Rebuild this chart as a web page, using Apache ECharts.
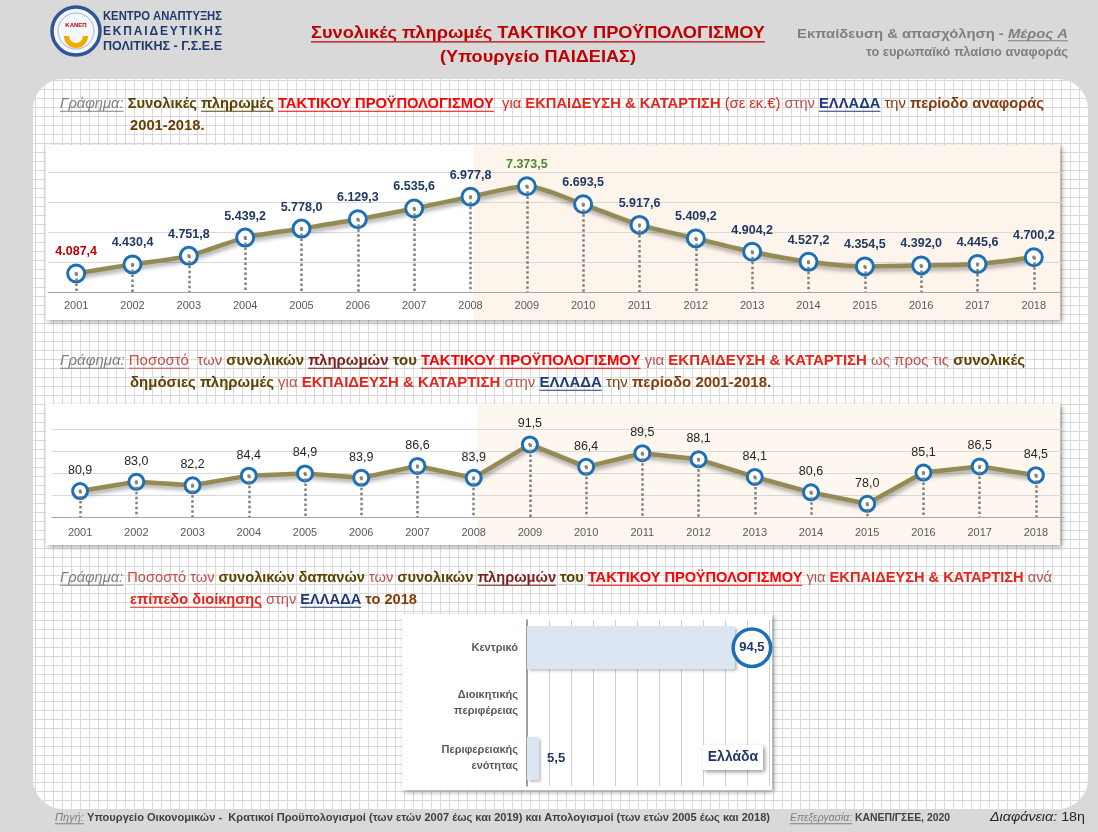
<!DOCTYPE html>
<html><head><meta charset="utf-8">
<script src="https://cdn.jsdelivr.net/npm/echarts@6/dist/echarts.min.js"></script>
<style>html,body{margin:0;padding:0;background:#d9d9d9}#c{width:1098px;height:832px}</style>
</head><body><div id="c"></div>
<script>
// ---------------- DATA ----------------
const years = ['2001','2002','2003','2004','2005','2006','2007','2008','2009','2010','2011','2012','2013','2014','2015','2016','2017','2018'];
const payments = [4087.4, 4430.4, 4751.8, 5439.2, 5778.0, 6129.3, 6535.6, 6977.8, 7373.5, 6693.5, 5917.6, 5409.2, 4904.2, 4527.2, 4354.5, 4392.0, 4445.6, 4700.2];
const shares = [80.9, 83.0, 82.2, 84.4, 84.9, 83.9, 86.6, 83.9, 91.5, 86.4, 89.5, 88.1, 84.1, 80.6, 78.0, 85.1, 86.5, 84.5];
const levels = ['Κεντρικό', 'Διοικητικής\nπεριφέρειας', 'Περιφερειακής\nενότητας'];
const levelShares = [94.5, null, 5.5];
const shadeFrom = '2008';
const payAxis = {min: 3390, max: 9040, interval: 1130};
const shareAxis = {min: 75, max: 100, interval: 5};
const levelAxis = {min: 0, max: 110, interval: 10};

// ---------------- HELPERS ----------------
const FAM = '"Liberation Sans", Arial, sans-serif';
const mctx = document.createElement('canvas').getContext('2d');
function tw(t, f) { mctx.font = f; return mctx.measureText(t).width; }
function fontOf(s, o) { return (s.i ? 'italic ' : '') + (s.b === false ? 'normal' : 'bold') + ' ' + o.size + 'px ' + (o.fam || FAM); }
function fmt(v) {
  const p = v.toFixed(1).split('.');
  return p[0].replace(/\B(?=(\d{3})+(?!\d))/g, '.') + ',' + p[1];
}
function mk(segs, o) {
  const kids = []; let cx = 0; const z = o.z || 10;
  segs.forEach((s, k) => {
    const f = fontOf(s, o);
    if (k > 0 && !s.ns) cx += tw(' ', f);
    const w = tw(s.t, f);
    kids.push({type: 'text', x: cx, y: 0, z: z, silent: true,
      style: {text: s.t, font: f, fill: s.c || o.c, align: 'left', verticalAlign: 'middle'}});
    if (s.u) kids.push({type: 'rect', z: z, silent: true,
      shape: {x: cx, y: o.size * 0.48, width: w, height: Math.max(1, o.size * 0.08)}, style: {fill: s.c || o.c}});
    cx += w;
  });
  const sc = o.scale || (o.width ? o.width / cx : 1);
  const W = cx * sc;
  let gx = o.x;
  if (o.align === 'center') gx -= W / 2; else if (o.align === 'right') gx -= W;
  return {el: {type: 'group', x: gx, y: o.y, scaleX: sc, children: kids}, scale: sc};
}
function spaced(text, x, y, width, size, color) {
  const f = 'bold ' + size + 'px ' + FAM;
  const chars = Array.from(text);
  const ws = chars.map(ch => tw(ch, f));
  const gap = (width - ws.reduce((a, b) => a + b, 0)) / (chars.length - 1);
  let cx = x;
  return chars.map((ch, i) => {
    const e = {type: 'text', x: cx, y: y, z: 10, silent: true,
      style: {text: ch, font: f, fill: color, align: 'left', verticalAlign: 'middle'}};
    cx += ws[i] + gap;
    return e;
  });
}

// grid paper pattern
const pc = document.createElement('canvas'); pc.width = 9; pc.height = 9;
const pg = pc.getContext('2d');
pg.fillStyle = '#ffffff'; pg.fillRect(0, 0, 9, 9);
pg.fillStyle = '#dadada'; pg.fillRect(8, 0, 1, 9); pg.fillRect(0, 8, 9, 1);

// colours
const GREY = '#7F7F7F', DB = '#5E4300', DR = '#7B1C1C', RED = '#FF0000', RED2 = '#E3261C', LR = '#C0504D', NAVY = '#1F3A78', BR = '#843C0C';

// ---------------- GRAPHIC ----------------
const G = [];
G.push({type: 'rect', z: 0.1, silent: true, shape: {x: 33, y: 79, width: 1055, height: 730, r: 30},
  style: {fill: {image: pc, repeat: 'repeat'}}});
const box1 = {x: 46, y: 145, width: 1014, height: 175};
const box2 = {x: 46, y: 404, width: 1014, height: 141};
const box3 = {x: 402, y: 614, width: 370, height: 176};
[box1, box2, box3].forEach(b => G.push({type: 'rect', z: 0.2, silent: true, shape: b,
  style: {fill: '#fff', shadowBlur: 5, shadowColor: 'rgba(0,0,0,0.35)', shadowOffsetX: 2, shadowOffsetY: 2}}));

// logo
G.push({type: 'circle', z: 10, silent: true, shape: {cx: 76, cy: 31, r: 24}, style: {fill: '#F4F7FC', stroke: '#2F5597', lineWidth: 3.5}});
G.push({type: 'circle', z: 10, silent: true, shape: {cx: 76, cy: 31, r: 18}, style: {fill: 'none', stroke: '#9DB3D9', lineWidth: 1}});
G.push({type: 'sector', z: 10, silent: true, shape: {cx: 76, cy: 36, r: 12, r0: 7, startAngle: 0, endAngle: Math.PI}, style: {fill: '#F2A900'}});
G.push({type: 'text', z: 10, silent: true, x: 76, y: 25, style: {text: 'ΚΑΝΕΠ', font: 'bold 6px ' + FAM, fill: '#C00000', align: 'center', verticalAlign: 'middle'}});
G.push(mk([{t: 'ΚΕΝΤΡΟ ΑΝΑΠΤΥΞΗΣ'}], {x: 103, y: 17, size: 12, width: 119, c: '#1F3A6E'}).el);
spaced('ΕΚΠΑΙΔΕΥΤΙΚΗΣ', 103, 32, 119, 12, '#1F3A6E').forEach(e => G.push(e));
G.push(mk([{t: 'ΠΟΛΙΤΙΚΗΣ - Γ.Σ.Ε.Ε'}], {x: 103, y: 47, size: 12, width: 119, c: '#1F3A6E'}).el);

// header titles
G.push(mk([{t: 'Συνολικές πληρωμές ΤΑΚΤΙΚΟΥ ΠΡΟΫΠΟΛΟΓΙΣΜΟΥ', u: true}], {x: 538, y: 33, size: 17, width: 454, align: 'center', c: '#C00000'}).el);
G.push(mk([{t: '(Υπουργείο ΠΑΙΔΕΙΑΣ)'}], {x: 538, y: 57, size: 17, width: 196, align: 'center', c: '#C00000'}).el);
G.push(mk([{t: 'Εκπαίδευση & απασχόληση -'}, {t: 'Μέρος Α', i: true, u: true}], {x: 1068, y: 34, size: 13, width: 271, align: 'right', c: GREY}).el);
G.push(mk([{t: 'το ευρωπαϊκό πλαίσιο αναφοράς'}], {x: 1068, y: 53, size: 12, width: 202, align: 'right', c: GREY}).el);

// caption 1
const c1 = mk([
  {t: 'Γράφημα:', i: true, b: false, u: true, c: GREY}, {t: 'Συνολικές', c: DB}, {t: 'πληρωμές', c: DB, u: true},
  {t: 'ΤΑΚΤΙΚΟΥ ΠΡΟΫΠΟΛΟΓΙΣΜΟΥ', c: RED, u: true}, {t: ' για', b: false, c: RED2}, {t: 'ΕΚΠΑΙΔΕΥΣΗ & ΚΑΤΑΡΤΙΣΗ', c: RED2},
  {t: '(σε εκ.€)', b: false, c: RED2}, {t: 'στην', b: false, c: LR}, {t: 'ΕΛΛΑΔΑ', c: NAVY, u: true},
  {t: 'την', b: false, c: BR}, {t: 'περίοδο αναφοράς', c: BR}
], {x: 60, y: 104, size: 14, width: 984});
G.push(c1.el);
G.push(mk([{t: '2001-2018.', c: '#6B3E00'}], {x: 130, y: 126, size: 14, scale: c1.scale}).el);

// caption 2
const c2 = mk([
  {t: 'Γράφημα:', i: true, b: false, u: true, c: GREY}, {t: 'Ποσοστό', b: false, u: true, c: LR}, {t: ' των', b: false, c: LR},
  {t: 'συνολικών', c: DB}, {t: 'πληρωμών', c: DR, u: true}, {t: 'του', c: DB},
  {t: 'ΤΑΚΤΙΚΟΥ ΠΡΟΫΠΟΛΟΓΙΣΜΟΥ', c: RED, u: true}, {t: 'για', b: false, c: LR}, {t: 'ΕΚΠΑΙΔΕΥΣΗ & ΚΑΤΑΡΤΙΣΗ', c: RED2},
  {t: 'ως προς τις', b: false, c: LR}, {t: 'συνολικές', c: DB}
], {x: 60, y: 361, size: 14, width: 965});
G.push(c2.el);
G.push(mk([
  {t: 'δημόσιες πληρωμές', c: DB}, {t: 'για', b: false, c: LR}, {t: 'ΕΚΠΑΙΔΕΥΣΗ & ΚΑΤΑΡΤΙΣΗ', c: RED2},
  {t: 'στην', b: false, c: LR}, {t: 'ΕΛΛΑΔΑ', c: NAVY, u: true}, {t: 'την', b: false, c: BR}, {t: 'περίοδο 2001-2018.', c: BR}
], {x: 130, y: 383, size: 14, scale: c2.scale}).el);

// caption 3
const c3 = mk([
  {t: 'Γράφημα:', i: true, b: false, u: true, c: GREY}, {t: 'Ποσοστό των', b: false, c: LR}, {t: 'συνολικών δαπανών', c: DB},
  {t: 'των', b: false, c: LR}, {t: 'συνολικών', c: DB}, {t: 'πληρωμών', c: DR, u: true}, {t: 'του', c: DB},
  {t: 'ΤΑΚΤΙΚΟΥ ΠΡΟΫΠΟΛΟΓΙΣΜΟΥ', c: RED, u: true}, {t: 'για', b: false, c: LR}, {t: 'ΕΚΠΑΙΔΕΥΣΗ & ΚΑΤΑΡΤΙΣΗ', c: RED2},
  {t: 'ανά', b: false, c: LR}
], {x: 60, y: 578, size: 14, width: 992});
G.push(c3.el);
G.push(mk([
  {t: 'επίπεδο διοίκησης', c: RED2, u: true}, {t: 'στην', b: false, c: LR}, {t: 'ΕΛΛΑΔΑ', c: NAVY, u: true}, {t: 'το 2018', c: BR}
], {x: 130, y: 600, size: 14, scale: c3.scale}).el);

// Ελλάδα box
G.push({type: 'rect', z: 10, silent: true, shape: {x: 703, y: 745, width: 60, height: 25},
  style: {fill: '#fff', shadowBlur: 4, shadowColor: 'rgba(0,0,0,0.4)', shadowOffsetX: 2, shadowOffsetY: 2}});
G.push({type: 'text', z: 11, silent: true, x: 733, y: 757.5, style: {text: 'Ελλάδα', font: 'bold 14px ' + FAM, fill: '#1F3864', align: 'center', verticalAlign: 'middle'}});

// footer
G.push(mk([{t: 'Πηγή:', i: true, b: false, u: true, c: GREY},
  {t: 'Υπουργείο Οικονομικών -  Κρατικοί Προϋπολογισμοί (των ετών 2007 έως και 2019) και Απολογισμοί (των ετών 2005 έως και 2018)', c: '#404040'}],
  {x: 55, y: 818, size: 11, width: 715}).el);
G.push(mk([{t: 'Επεξεργασία:', i: true, b: false, u: true, c: GREY}, {t: 'ΚΑΝΕΠ/ΓΣΕΕ, 2020', c: '#404040'}],
  {x: 790, y: 818, size: 11, width: 160}).el);
G.push(mk([{t: 'Διαφάνεια:', i: true, b: false, c: '#262626'}, {t: '18η', b: false, c: '#262626'}],
  {x: 990, y: 818, size: 12, width: 95}).el);

// ---------------- SERIES ----------------
function lineSet(vals, ax, yMin, o) {
  const maxI = vals.indexOf(Math.max(...vals));
  const data = vals.map((v, i) => {
    const it = {value: v};
    if (o.firstColor && i === 0) it.label = {color: o.firstColor};
    if (o.maxColor && i === maxI) it.label = {color: o.maxColor};
    return it;
  });
  return [
    {type: 'line', xAxisIndex: ax, yAxisIndex: ax, data: vals, symbol: 'none', silent: true, z: 2,
      lineStyle: {opacity: 0}, emphasis: {disabled: true},
      markLine: {silent: true, symbol: ['none', 'none'], label: {show: false}, emphasis: {disabled: true},
        lineStyle: {color: '#7F7F7F', width: 2.5, type: [2.5, 2.5]},
        data: vals.map((v, i) => [{coord: [i, v]}, {coord: [i, yMin]}])}},
    {type: 'line', xAxisIndex: ax, yAxisIndex: ax, data: data, smooth: o.smooth, z: 3,
      symbol: 'circle', symbolSize: o.sym, emphasis: {disabled: true},
      lineStyle: {color: '#948A54', width: 4.5, shadowColor: 'rgba(0,0,0,0.35)', shadowBlur: 4, shadowOffsetY: 3, shadowOffsetX: 1},
      itemStyle: {color: '#fff', borderColor: '#1F6FB5', borderWidth: 3},
      label: {show: true, position: 'top', distance: 5, formatter: p => fmt(p.value),
        color: o.labelColor, fontWeight: o.labelWeight, fontSize: 12.5, fontFamily: FAM}},
    {type: 'line', xAxisIndex: ax, yAxisIndex: ax, data: vals, z: 4, silent: true, symbol: 'circle', symbolSize: 3.5,
      lineStyle: {opacity: 0, width: 0}, itemStyle: {color: '#8C8C8C'}, emphasis: {disabled: true}}
  ];
}

const catAxis = (gi, margin) => ({gridIndex: gi, type: 'category', data: years, z: 1,
  axisLine: {lineStyle: {color: '#A6A6A6'}}, axisTick: {length: 4, lineStyle: {color: '#A6A6A6'}},
  axisLabel: {color: '#595959', fontSize: 11, margin: margin, fontFamily: FAM}});
const valAxis = (gi, a) => ({gridIndex: gi, type: 'value', min: a.min, max: a.max, interval: a.interval, z: 1,
  axisLabel: {show: false}, axisLine: {show: false}, axisTick: {show: false},
  splitLine: {lineStyle: {color: '#D9D9D9'}, showMinLine: false, showMaxLine: false}});

const option = {
  animation: false,
  backgroundColor: '#d9d9d9',
  textStyle: {fontFamily: FAM},
  grid: [
    {left: 48, right: 36, top: 142, bottom: 540},
    {left: 52, right: 34, top: 407, bottom: 315},
    {left: 527, right: 329, top: 620, bottom: 46}
  ],
  xAxis: [catAxis(0, 8), catAxis(1, 10),
    {gridIndex: 2, type: 'value', min: levelAxis.min, max: levelAxis.max, interval: levelAxis.interval, z: 1,
      axisLabel: {show: false}, axisLine: {show: false}, axisTick: {show: false},
      splitLine: {lineStyle: {color: '#CFCFCF'}, showMinLine: false}}],
  yAxis: [valAxis(0, payAxis), valAxis(1, shareAxis),
    {gridIndex: 2, type: 'category', data: levels, inverse: true, z: 1,
      axisLine: {lineStyle: {color: '#7F7F7F', width: 1.5}}, axisTick: {length: 4, lineStyle: {color: '#7F7F7F'}},
      axisLabel: {color: '#595959', fontWeight: 'bold', fontSize: 11, lineHeight: 16, margin: 9, align: 'right', fontFamily: FAM}}],
  series: [
    ...lineSet(payments, 0, payAxis.min, {smooth: 0.25, sym: 17, labelColor: '#1F3864', labelWeight: 'bold', firstColor: '#C00000', maxColor: '#4E8A2E'}),
    ...lineSet(shares, 1, shareAxis.min, {smooth: false, sym: 15, labelColor: '#262626', labelWeight: 'normal'}),
    {type: 'bar', xAxisIndex: 2, yAxisIndex: 2, data: levelShares, barCategoryGap: '22%', z: 3, emphasis: {disabled: true},
      itemStyle: {color: '#DCE6F2', shadowColor: 'rgba(0,0,0,0.3)', shadowBlur: 3, shadowOffsetX: 2, shadowOffsetY: 2},
      label: {show: true, position: 'right',
        distance: 0,
        formatter: p => (p.dataIndex === 0 ? '{r|' : '{p|') + fmt(p.value) + '}',
        rich: {
          r: {width: 34, height: 34, lineHeight: 34, align: 'center', borderRadius: 20, borderColor: '#1F6FB5', borderWidth: 3.5,
            backgroundColor: '#fff', color: '#1F3864', fontWeight: 'bold', fontSize: 13, fontFamily: FAM},
          p: {color: '#1F3864', fontWeight: 'bold', fontSize: 13, fontFamily: FAM, padding: [0, 0, 0, 8]}
        }}}
  ],
  graphic: {elements: G}
};

const chart = echarts.init(document.getElementById('c'), null, {renderer: 'canvas'});
chart.setOption(option);
// background shading from the chosen year onward (positions from the axis scale)
const sx1 = chart.convertToPixel({xAxisIndex: 0}, shadeFrom);
const sx2 = chart.convertToPixel({xAxisIndex: 1}, shadeFrom);
G.push({type: 'rect', z: 0.3, silent: true, shape: {x: sx1 + 3, y: box1.y, width: box1.x + box1.width - sx1 - 3, height: box1.height}, style: {fill: '#FDF5EB'}});
G.push({type: 'rect', z: 0.3, silent: true, shape: {x: sx2 + 3, y: box2.y, width: box2.x + box2.width - sx2 - 3, height: box2.height}, style: {fill: '#FDF7F0'}});
chart.setOption(option, true);
</script></body></html>
